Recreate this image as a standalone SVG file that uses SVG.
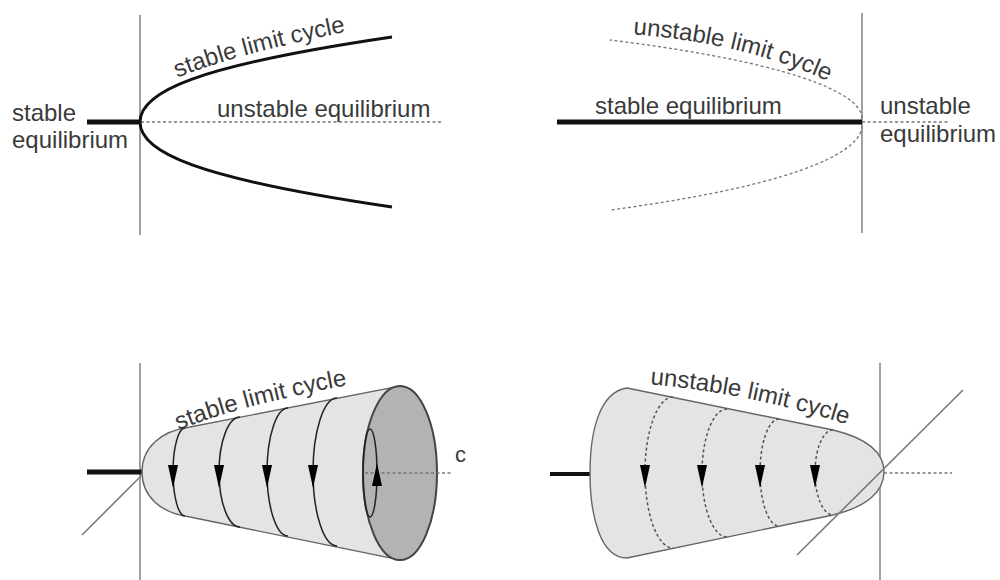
<svg xmlns="http://www.w3.org/2000/svg" width="1000" height="580" viewBox="0 0 1000 580">
<style>
.axis{stroke:#8a8a8a;stroke-width:1.6;fill:none}
.dash{stroke:#777;stroke-width:1.3;stroke-dasharray:3 2.5;fill:none}
.stab{stroke:#111;stroke-width:3;fill:none}
.thick{stroke:#111;stroke-width:5;fill:none}
.lbl{font-family:"Liberation Sans",Arial,sans-serif;font-size:24px;fill:#3a3a3a}
.cone{fill:#e4e4e4;stroke:#666;stroke-width:1.4}
.cyc{stroke:#222;stroke-width:1.5;fill:none}
.dcyc{stroke:#555;stroke-width:1.5;stroke-dasharray:3 2.5;fill:none}
.arr{fill:#000}
.diag{stroke:#7a7a7a;stroke-width:1.6;fill:none}
</style>
<defs>
<path id="t1" d="M172,80 Q232,54 370,27"/>
<path id="t2" d="M630,34 Q760,44 850,92"/>
<path id="t3" d="M174,432 Q240,404 370,381"/>
<path id="t4" d="M647,384 Q760,394 870,432"/>
</defs>

<g id="panel-top-left">
<line class="axis" x1="140" y1="15" x2="140" y2="235"/>
<line class="thick" x1="87" y1="122" x2="140" y2="122"/>
<line class="dash" x1="141" y1="122" x2="443" y2="122"/>
<path class="stab" d="M140,122 C140,92 195,66 392,37"/>
<path class="stab" d="M140,122 C140,152 195,178 392,207"/>
<text class="lbl" x="12" y="121">stable</text>
<text class="lbl" x="12" y="148">equilibrium</text>
<text class="lbl" x="217" y="117">unstable equilibrium</text>
<text class="lbl"><textPath href="#t1" startOffset="6">stable limit cycle</textPath></text>
</g>

<g id="panel-top-right">
<line class="axis" x1="862" y1="13" x2="862" y2="233"/>
<line class="thick" x1="557" y1="122" x2="862" y2="122"/>
<line class="dash" x1="862" y1="122" x2="948" y2="122"/>
<path class="dash" d="M862,118 C862,100 820,66 610,40"/>
<path class="dash" d="M862,126 C862,146 820,182 610,210"/>
<text class="lbl" x="595" y="114">stable equilibrium</text>
<text class="lbl" x="880" y="114">unstable</text>
<text class="lbl" x="880" y="142">equilibrium</text>
<text class="lbl"><textPath href="#t2" startOffset="3">unstable limit cycle</textPath></text>
</g>

<g id="panel-bottom-left">
<line class="axis" x1="140" y1="363" x2="140" y2="580"/>
<line class="diag" x1="82" y1="535" x2="141" y2="476"/>
<line class="thick" x1="87" y1="472" x2="142" y2="472"/>
<path class="cone" d="M142,472 C142,448 160,431 190,427 L400,386 L400,560 L190,517 C160,513 142,496 142,472 Z"/>
<path class="cyc" d="M185,428 A12 44 0 0 0 185,516"/>
<path class="cyc" d="M240,417 A21 55 0 0 0 240,527"/>
<path class="cyc" d="M288,408 A21 64 0 0 0 288,536"/>
<path class="cyc" d="M337,398 A24 74 0 0 0 337,546"/>
<polygon class="arr" points="168,465 178,465 173,488"/>
<polygon class="arr" points="214,465 224,465 219,488"/>
<polygon class="arr" points="262,465 272,465 267,488"/>
<polygon class="arr" points="308,465 318,465 313,488"/>
<ellipse cx="400" cy="473" rx="37" ry="87" fill="#b3b3b3" stroke="#444" stroke-width="2"/>
<ellipse cx="370" cy="473" rx="7" ry="44" class="cyc"/>
<line class="dash" x1="365" y1="473" x2="452" y2="473"/>
<polygon class="arr" points="377,463 372,486 382,486"/>
<text class="lbl" x="455" y="462" style="font-size:22px">c</text>
<text class="lbl"><textPath href="#t3" startOffset="5">stable limit cycle</textPath></text>
</g>

<g id="panel-bottom-right">
<line class="axis" x1="880" y1="363" x2="880" y2="580"/>
<line class="thick" x1="550" y1="474" x2="590" y2="474" style="stroke-width:4"/>
<path class="cone" d="M627,388 L833,430 C866,438 884,452 884,472 C884,492 866,507 833,515 L627,558 C600,558 590,515 590,473 C590,430 600,392 627,388 Z"/>
<path class="dcyc" d="M673,397 A28 75.5 0 0 0 673,548"/>
<path class="dcyc" d="M727,409 A25 64 0 0 0 727,537"/>
<path class="dcyc" d="M779,419 A19 53.5 0 0 0 779,526"/>
<path class="dcyc" d="M833,430 A18 42.5 0 0 0 833,515"/>
<polygon class="arr" points="640,465 650,465 645,488"/>
<polygon class="arr" points="697,465 707,465 702,488"/>
<polygon class="arr" points="755,465 765,465 760,488"/>
<polygon class="arr" points="810,465 820,465 815,488"/>
<line class="dash" x1="884" y1="473" x2="952" y2="473"/>
<line class="diag" x1="797" y1="555" x2="963" y2="390"/>
<text class="lbl"><textPath href="#t4" startOffset="3">unstable limit cycle</textPath></text>
</g>
</svg>
